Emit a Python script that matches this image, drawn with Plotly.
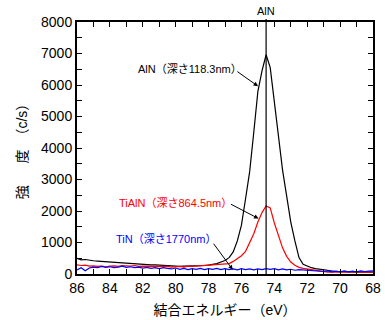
import plotly.graph_objects as go

energy = [86.0, 85.75, 85.5, 85.25, 85.0, 84.75, 84.5, 84.25, 84.0, 83.75, 83.5, 83.25,
          83.0, 82.75, 82.5, 82.25, 82.0, 81.75, 81.5, 81.25, 81.0, 80.75, 80.5, 80.25,
          80.0, 79.75, 79.5, 79.25, 79.0, 78.75, 78.5, 78.25, 78.0, 77.75, 77.5, 77.25,
          77.0, 76.75, 76.5, 76.25, 76.0, 75.75, 75.5, 75.25, 75.0, 74.75, 74.5, 74.25,
          74.0, 73.75, 73.5, 73.25, 73.0, 72.75, 72.5, 72.25, 72.0, 71.75, 71.5, 71.25,
          71.0, 70.75, 70.5, 70.25, 70.0, 69.75, 69.5, 69.25, 69.0, 68.75, 68.5, 68.25, 68.0]

aln = [500, 450, 460, 430, 420, 410, 400, 380, 380, 370, 360, 340,
       340, 330, 320, 310, 310, 300, 290, 290, 280, 270, 260, 260,
       250, 240, 250, 250, 260, 260, 270, 270, 280, 300, 330, 380,
       430, 520, 700, 1050, 1550, 2390, 3250, 4500, 5800, 6450, 6960, 6550,
       5400, 4250, 3300, 2470, 1650, 1050, 520, 310, 250, 200, 170, 150,
       130, 110, 90, 80, 80, 70, 70, 70, 60, 70, 60, 60, 60]

tialn = [290, 270, 280, 250, 260, 240, 250, 230, 250, 260, 240, 270,
         260, 250, 270, 240, 250, 250, 240, 230, 250, 230, 240, 220,
         230, 240, 220, 250, 240, 250, 260, 250, 270, 280, 290, 310,
         320, 330, 400, 480, 580, 720, 980, 1280, 1650, 1950, 2160, 2100,
         1620, 1250, 830, 560, 380, 280, 210, 180, 160, 140, 110, 90,
         70, 60, 60, 50, 60, 60, 50, 60, 60, 70, 60, 70, 60]

tin = [130, 200, 100, 190, 220, 200, 240, 210, 230, 200, 220, 250,
       210, 230, 200, 220, 190, 210, 180, 200, 170, 200, 180, 160,
       190, 150, 180, 140, 170, 150, 180, 140, 170, 150, 180, 140,
       170, 140, 160, 130, 170, 140, 160, 130, 160, 140, 170, 150,
       170, 130, 160, 130, 150, 120, 140, 130, 120, 130, 100, 110,
       80, 100, 70, 90, 70, 100, 70, 90, 70, 100, 80, 90, 100]

series_names = ["AlN（深さ118.3nm）", "TiAlN（深さ864.5nm）", "TiN（深さ1770nm）"]
series_colors = ["#000000", "#ff0000", "#0000ff"]
aln_ref_energy = 74.5

FONT = "Liberation Sans, Arial, Noto Sans CJK JP, sans-serif"

fig = go.Figure()
for vals, name, col in zip([aln, tialn, tin], series_names, series_colors):
    fig.add_trace(go.Scatter(x=energy, y=vals, mode="lines", name=name,
                             line=dict(color=col, width=1.2), showlegend=False))

fig.add_shape(type="line", xref="x", yref="paper", x0=aln_ref_energy, x1=aln_ref_energy,
              y0=0, y1=1.012, line=dict(color="black", width=1.2))

fig.add_annotation(x=aln_ref_energy, y=1, xref="x", yref="paper", text="AlN",
                   showarrow=False, yanchor="bottom", yshift=3,
                   font=dict(size=11, color="black", family=FONT))

# label positions (text centre) and arrow tips
labels = [
    dict(tx=79.15, ty=6520, sx=76.34, sy=6460, hx=74.99, hy=5960),
    dict(tx=80.0, ty=2270, sx=76.73, sy=2240, hx=74.96, hy=1760),
    dict(tx=80.6, ty=1100, sx=77.76, sy=1010, hx=76.53, hy=135),
]
for lab, name, col in zip(labels, series_names, series_colors):
    fig.add_annotation(x=lab["tx"], y=lab["ty"], xref="x", yref="y", text=name,
                       showarrow=False, font=dict(size=11, color=col, family=FONT))
    fig.add_annotation(x=lab["hx"], y=lab["hy"], ax=lab["sx"], ay=lab["sy"],
                       xref="x", yref="y", axref="x", ayref="y", text="",
                       showarrow=True, arrowhead=2, arrowsize=0.9, arrowwidth=1,
                       arrowcolor="black", standoff=0, startstandoff=0)

axis_common = dict(showgrid=False, zeroline=False, showline=True, linecolor="black",
                   linewidth=2, mirror="allticks", ticks="inside", ticklen=5,
                   tickwidth=1, tickcolor="black", ticklabeloverflow="allow",
                   tickfont=dict(size=14, color="black", family=FONT))

fig.update_xaxes(range=[86, 68], dtick=2, tick0=68,
                 minor=dict(dtick=1, ticks="inside", ticklen=5, tickcolor="black"),
                 title=dict(text="結合エネルギー（eV）", standoff=10,
                            font=dict(size=14, color="black", family=FONT)),
                 **axis_common)
fig.update_yaxes(range=[0, 8000], dtick=1000,
                 minor=dict(dtick=500, ticks="inside", ticklen=5, tickcolor="black"),
                 title=dict(text="強 \u3000 度\u3000（c/s）", standoff=10,
                            font=dict(size=14, color="black", family=FONT)),
                 **axis_common)

fig.update_layout(width=385, height=320, margin=dict(l=77, r=4, t=22, b=44),
                  paper_bgcolor="white", plot_bgcolor="white",
                  font=dict(family=FONT, color="black"))

fig.write_html("out.html", config={"displayModeBar": False},
               post_script="document.body.style.margin='0';document.body.style.overflow='hidden';")
